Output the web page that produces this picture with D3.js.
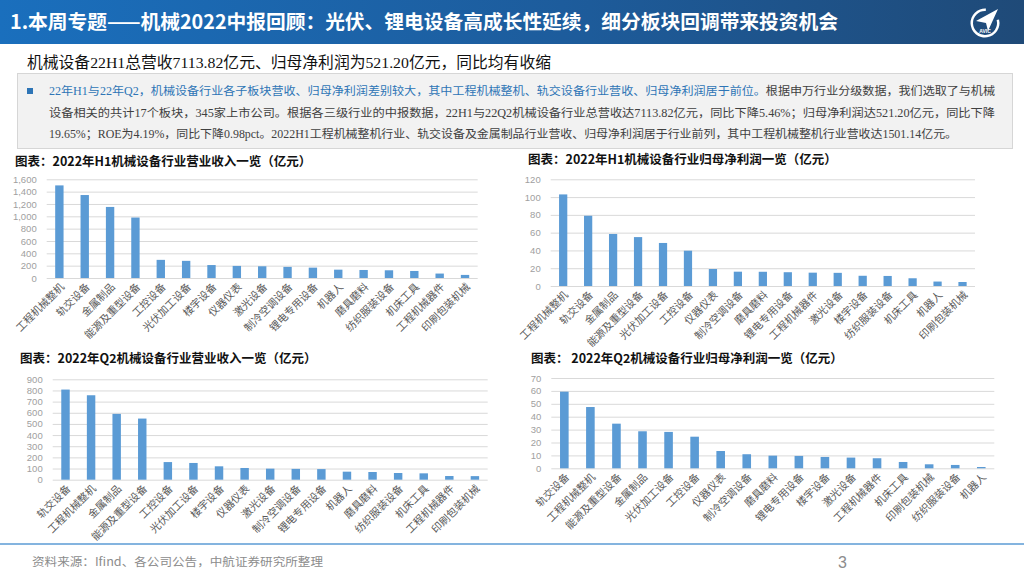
<!DOCTYPE html>
<html>
<head>
<meta charset="utf-8">
<script src="https://cdn.jsdelivr.net/npm/d3@7"></script>
<style>
  html, body { margin: 0; padding: 0; background: #fff; }
  svg { display: block; }
  .sans { font-family: "Noto Sans CJK SC", "Noto Sans", sans-serif; }
  .serif { font-family: "Liberation Serif", "Noto Sans CJK SC", serif; }
  .num { font-family: "Liberation Sans", Arial, sans-serif; }
</style>
</head>
<body>
<svg id="page" width="1024" height="576"></svg>
<script>
// ---- data ----
const h1RevCats = ["工程机械整机", "轨交设备", "金属制品", "能源及重型设备", "工控设备", "光伏加工设备", "楼宇设备", "仪器仪表", "激光设备", "制冷空调设备", "锂电专用设备", "机器人", "磨具磨料", "纺织服装设备", "机床工具", "工程机械器件", "印刷包装机械"];
const h1RevVals = [1501.14, 1345, 1152, 980, 294, 278, 210, 196, 190, 180, 168, 135, 130, 125, 114, 72, 50];

const h1ProfitCats = ["工程机械整机", "轨交设备", "金属制品", "能源及重型设备", "光伏加工设备", "工控设备", "仪器仪表", "制冷空调设备", "磨具磨料", "锂电专用设备", "工程机械器件", "激光设备", "楼宇设备", "纺织服装设备", "机床工具", "机器人", "印刷包装机械"];
const h1ProfitVals = [103, 79, 58.5, 55, 48.4, 39.7, 19.1, 16.1, 16, 15.5, 15, 14.8, 11.5, 11.3, 8.7, 5, 4.5];

const q2RevCats = ["轨交设备", "工程机械整机", "金属制品", "能源及重型设备", "工控设备", "光伏加工设备", "楼宇设备", "仪器仪表", "激光设备", "制冷空调设备", "锂电专用设备", "机器人", "磨具磨料", "纺织服装设备", "机床工具", "工程机械器件", "印刷包装机械"];
const q2RevVals = [808, 757, 590, 548, 158, 150, 120, 105, 99, 97, 95, 72, 69, 60, 57, 33, 32];

const q2ProfitCats = ["轨交设备", "工程机械整机", "能源及重型设备", "金属制品", "光伏加工设备", "工控设备", "仪器仪表", "制冷空调设备", "磨具磨料", "锂电专用设备", "楼宇设备", "激光设备", "工程机械器件", "机床工具", "印刷包装机械", "纺织服装设备", "机器人"];
const q2ProfitVals = [59.4, 47.5, 34.6, 28.7, 28.2, 24.5, 13.4, 10.9, 9.8, 9.6, 8.8, 8.3, 7.8, 4.9, 3.1, 2.6, 1.0];

const h1RevTicks = [0, 200, 400, 600, 800, 1000, 1200, 1400, 1600];
const h1ProfitTicks = [0, 20, 40, 60, 80, 100, 120];
const q2RevTicks = [0, 100, 200, 300, 400, 500, 600, 700, 800, 900];
const q2ProfitTicks = [0, 10, 20, 30, 40, 50, 60, 70];

const pageTitle = "1.本周专题——机械2022中报回顾：光伏、锂电设备高成长性延续，细分板块回调带来投资机会";
const subTitle = "机械设备22H1总营收7113.82亿元、归母净利润为521.20亿元，同比均有收缩";
const bodyLines = [
  [["22年H1与22年Q2，机械设备行业各子板块营收、归母净利润差别较大，其中工程机械整机、轨交设备行业营收、归母净利润居于前位。", true],
   ["根据申万行业分级数据，我们选取了与机械", false]],
  [["设备相关的共计17个板块，345家上市公司。根据各三级行业的中报数据，22H1与22Q2机械设备行业总营收达7113.82亿元，同比下降5.46%；归母净利润达521.20亿元，同比下降", false]],
  [["19.65%；ROE为4.19%，同比下降0.98pct。2022H1工程机械整机行业、轨交设备及金属制品行业营收、归母净利润居于行业前列，其中工程机械整机行业营收达1501.14亿元。", false]]
];
const sourceNote = "资料来源：Ifind、各公司公告，中航证券研究所整理";

const svg = d3.select("#page");

// ---- header banner ----
const grad = svg.append("defs").append("linearGradient")
  .attr("id", "hdr").attr("x1", 0).attr("x2", 1).attr("y1", 0).attr("y2", 0);
grad.append("stop").attr("offset", "0%").attr("stop-color", "#1a6fbd");
grad.append("stop").attr("offset", "55%").attr("stop-color", "#1d5c9c");
grad.append("stop").attr("offset", "100%").attr("stop-color", "#1f4a78");

svg.append("rect").attr("x", 0).attr("y", 0).attr("width", 1024).attr("height", 44)
  .attr("fill", "url(#hdr)");

svg.append("text").attr("class", "sans")
  .attr("x", 10).attr("y", 29)
  .attr("fill", "#fff").attr("font-size", 19.5).attr("font-weight", "bold")
  .attr("textLength", 828).attr("lengthAdjust", "spacingAndGlyphs")
  .text(pageTitle);

// logo (rough AVIC mark)
const logo = svg.append("g").attr("transform", "translate(985,23)");
const ring = d3.arc().innerRadius(12).outerRadius(14.5)
  .startAngle(Math.PI * 0.42).endAngle(Math.PI * 2.02);
logo.append("path").attr("d", ring()).attr("fill", "#fff");
logo.append("path").attr("d", "M-9,-2 L13,-14 L3,8 L1,0 Z").attr("fill", "#fff");
logo.append("text").attr("class", "num").attr("x", 0).attr("y", 10)
  .attr("text-anchor", "middle").attr("font-size", 5).attr("font-weight", "bold")
  .attr("fill", "#fff").text("AVIC");

// ---- subtitle ----
svg.append("text").attr("class", "serif")
  .attr("x", 27).attr("y", 68)
  .attr("font-size", 15.5).attr("fill", "#111")
  .attr("textLength", 524).attr("lengthAdjust", "spacingAndGlyphs")
  .text(subTitle);

// ---- summary box ----
svg.append("rect").attr("x", 17.5).attr("y", 73.5).attr("width", 995).attr("height", 75)
  .attr("fill", "#f2f2f2").attr("stroke", "#d6d6d6");
svg.append("rect").attr("x", 27).attr("y", 88).attr("width", 6).attr("height", 6)
  .attr("fill", "#2e75b6");

const lineEnds = [995, 995, 957];
bodyLines.forEach((segs, i) => {
  const t = svg.append("text").attr("class", "serif")
    .attr("x", 49).attr("y", 95 + i * 21.5)
    .attr("font-size", 11.5)
    .attr("textLength", lineEnds[i] - 49).attr("lengthAdjust", "spacingAndGlyphs");
  segs.forEach(([s, blue]) => {
    t.append("tspan").attr("fill", blue ? "#2e75b6" : "#404040").text(s);
  });
});

// ---- bar charts ----
function drawChart(cfg) {
  const g = svg.append("g");

  g.append("text").attr("class", "sans")
    .attr("x", cfg.titleX).attr("y", cfg.titleY)
    .attr("font-size", 12.5).attr("font-weight", "bold").attr("fill", "#111")
    .text(cfg.title);

  const x = d3.scaleBand().domain(cfg.cats).range(cfg.xRange)
    .paddingInner(0.67).paddingOuter(0.335);
  const y = d3.scaleLinear().domain([0, d3.max(cfg.ticks)]).range(cfg.yRange);

  // gridlines
  g.append("g")
    .attr("transform", `translate(${cfg.xRange[0]},0)`)
    .call(d3.axisLeft(y).tickValues(cfg.ticks)
      .tickSize(-(cfg.xRange[1] - cfg.xRange[0])).tickFormat(""))
    .call(a => a.select(".domain").remove())
    .call(a => a.selectAll("line").attr("stroke", "#d9d9d9"));

  // y labels
  g.append("g")
    .attr("transform", `translate(${cfg.xRange[0]},0)`)
    .call(d3.axisLeft(y).tickValues(cfg.ticks).tickSize(0).tickPadding(10)
      .tickFormat(d3.format(",")))
    .call(a => a.select(".domain").remove())
    .call(a => a.selectAll("text")
      .attr("class", "num").attr("font-family", null)
      .attr("font-size", 9.5).attr("fill", "#a0a0a0"));

  // bars
  g.selectAll("rect.bar").data(cfg.vals).join("rect")
    .attr("class", "bar")
    .attr("x", (d, i) => x(cfg.cats[i]))
    .attr("width", x.bandwidth())
    .attr("y", d => y(d))
    .attr("height", d => y(0) - y(d))
    .attr("fill", "#5b9bd5");

  // rotated category labels
  const y0 = y(0);
  g.selectAll("text.cat").data(cfg.cats).join("text")
    .attr("class", "cat sans")
    .attr("transform", d => `translate(${x(d) + x.bandwidth() / 2 + 3},${y0 + 7}) rotate(-45)`)
    .attr("text-anchor", "end")
    .attr("dy", "0.35em")
    .attr("font-size", 10.5).attr("fill", "#595959")
    .text(d => d);
}

drawChart({
  title: "图表：2022年H1机械设备行业营业收入一览（亿元）",
  titleX: 15, titleY: 166,
  cats: h1RevCats, vals: h1RevVals, ticks: h1RevTicks,
  xRange: [46.7, 477.7], yRange: [278, 179.3]
});
drawChart({
  title: "图表：2022年H1机械设备行业归母净利润一览（亿元）",
  titleX: 528, titleY: 164,
  cats: h1ProfitCats, vals: h1ProfitVals, ticks: h1ProfitTicks,
  xRange: [550.7, 975], yRange: [286, 179.3]
});
drawChart({
  title: "图表：2022年Q2机械设备行业营业收入一览（亿元）",
  titleX: 20, titleY: 363,
  cats: q2RevCats, vals: q2RevVals, ticks: q2RevTicks,
  xRange: [52.7, 487.7], yRange: [479.7, 379.3]
});
drawChart({
  title: "图表： 2022年Q2机械设备行业归母净利润一览（亿元）",
  titleX: 531, titleY: 363,
  cats: q2ProfitCats, vals: q2ProfitVals, ticks: q2ProfitTicks,
  xRange: [551.3, 994.3], yRange: [468.3, 378]
});

// ---- footer ----
svg.append("line").attr("x1", 0).attr("x2", 1024).attr("y1", 544).attr("y2", 544)
  .attr("stroke", "#5b9bd5").attr("stroke-width", 1.5);
svg.append("text").attr("class", "sans")
  .attr("x", 32).attr("y", 566).attr("font-size", 11.5).attr("fill", "#8c8c8c")
  .attr("textLength", 291).attr("lengthAdjust", "spacingAndGlyphs")
  .text(sourceNote);
svg.append("text").attr("class", "num")
  .attr("x", 838).attr("y", 568).attr("font-size", 16).attr("fill", "#8c8c8c")
  .text("3");
</script>
</body>
</html>
